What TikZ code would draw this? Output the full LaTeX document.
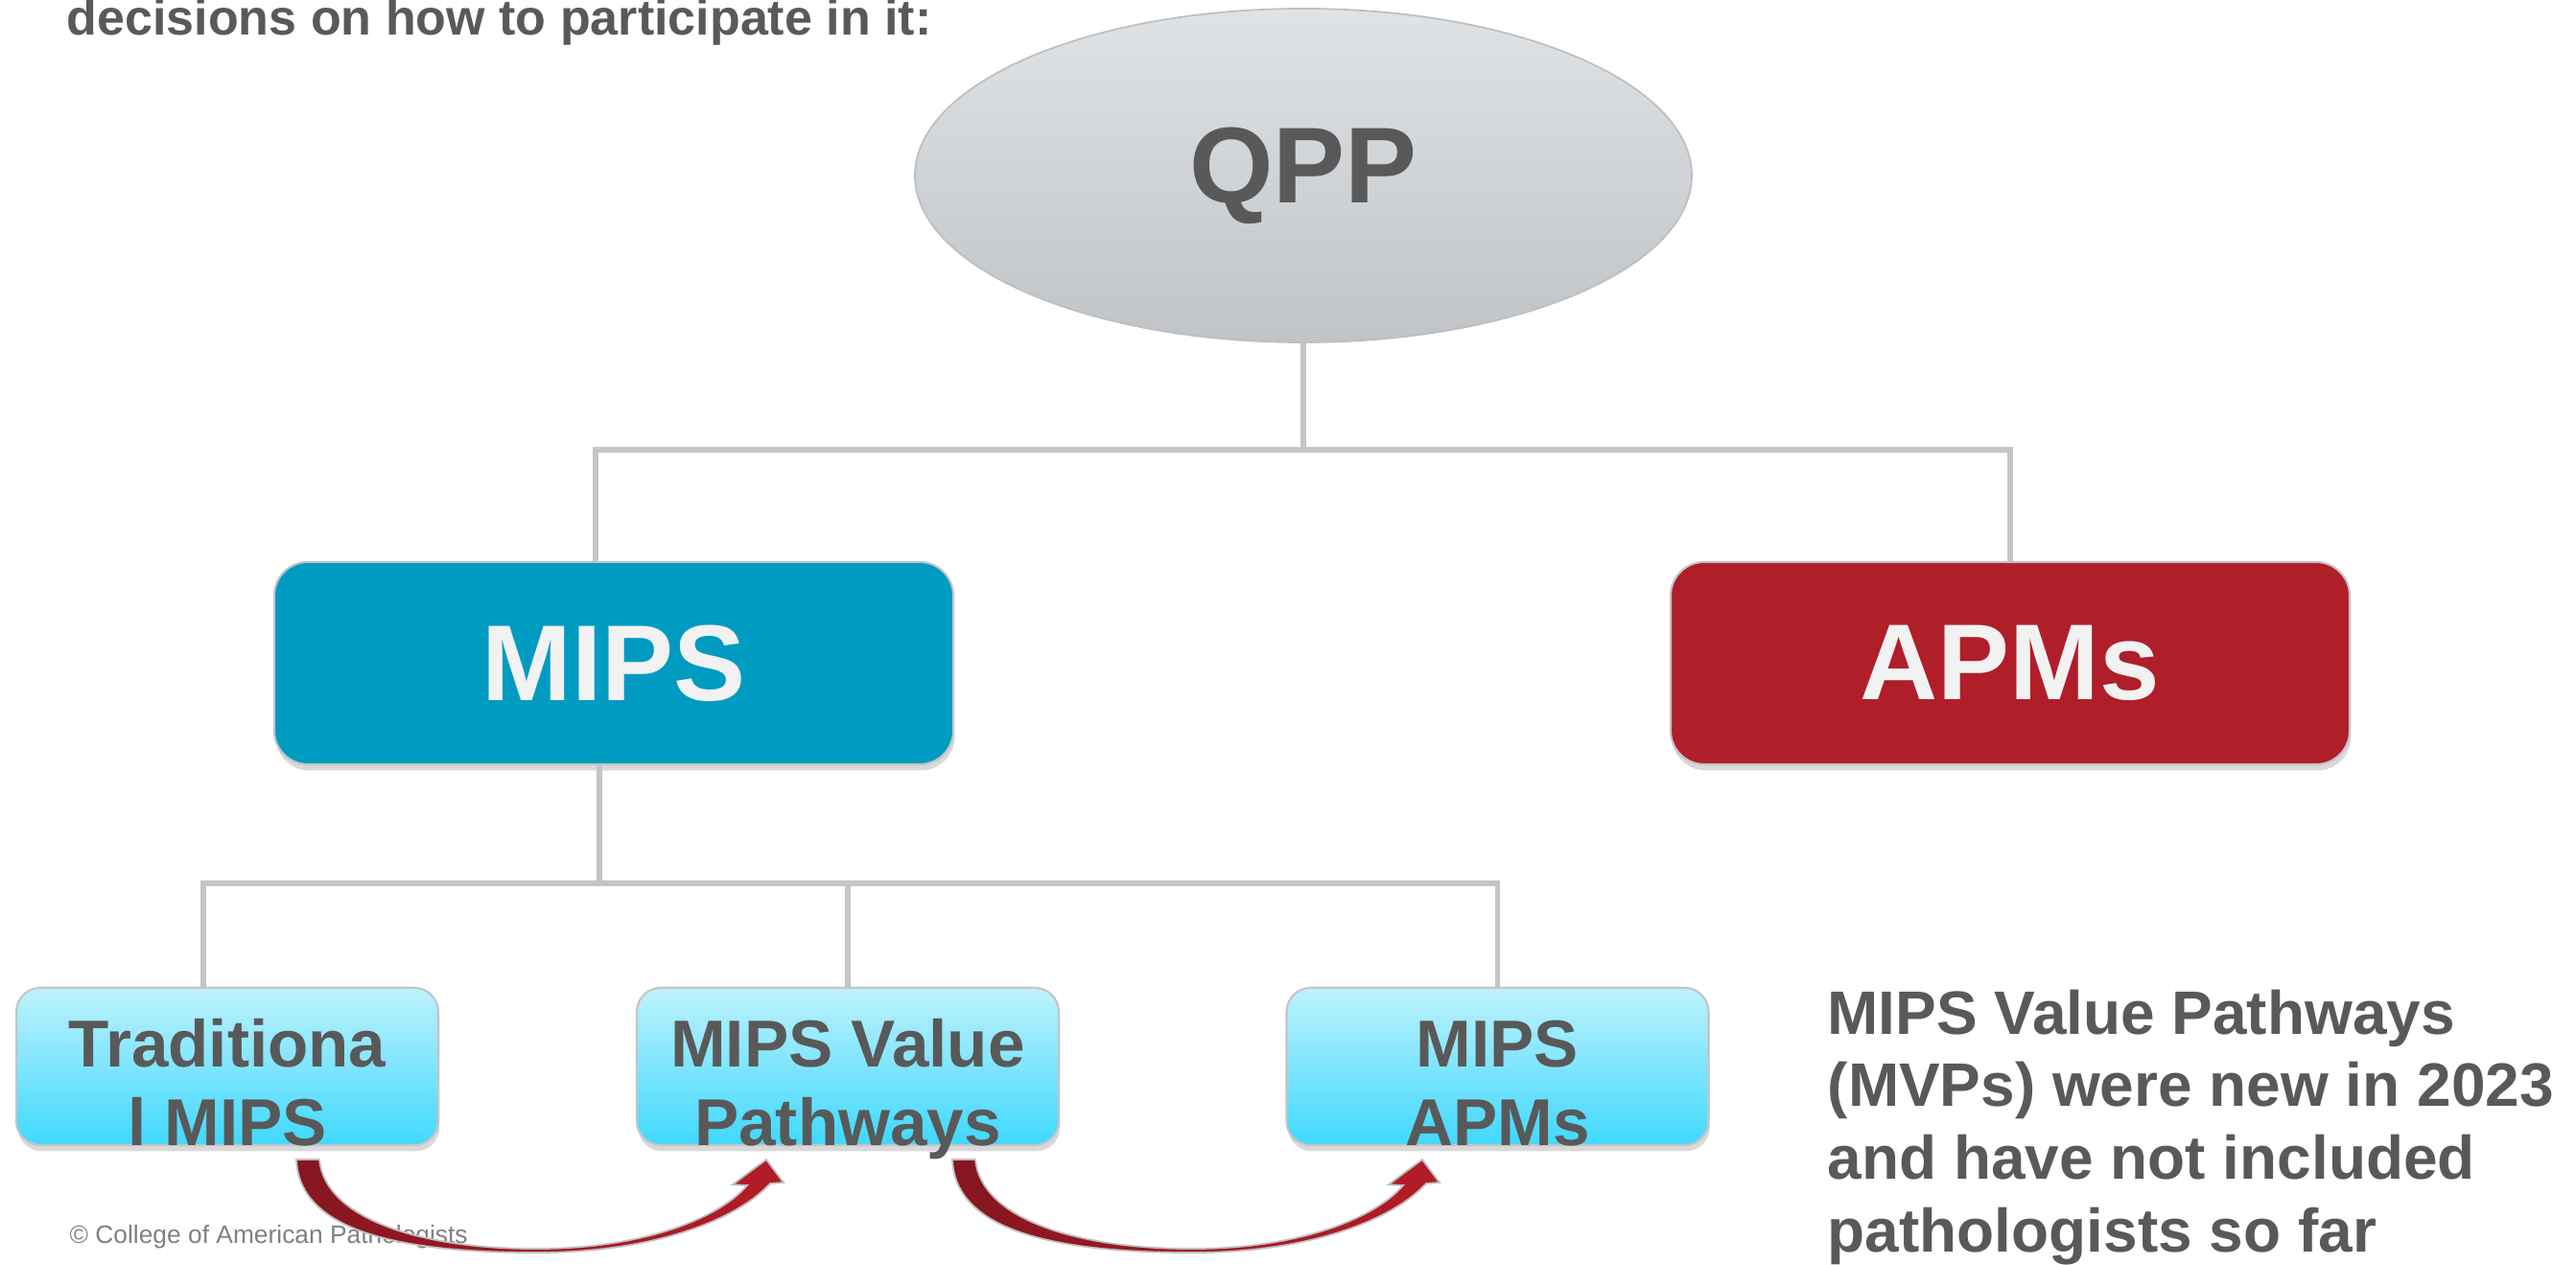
\documentclass[tikz,border=0pt]{standalone}
\usepackage{fontspec}
\setmainfont{Liberation Sans}
\usepackage{tikz}
\usetikzlibrary{shapes.geometric,shadows}
\definecolor{txtgray}{RGB}{89,89,89}
\definecolor{mipsblue}{RGB}{0,155,192}
\definecolor{apmred}{RGB}{176,30,41}
\definecolor{linegray}{RGB}{195,197,200}
\definecolor{cyantop}{RGB}{190,242,253}
\definecolor{cyanbot}{RGB}{64,216,253}
\definecolor{elltop}{RGB}{224,227,230}
\definecolor{ellbot}{RGB}{192,195,199}
\definecolor{arrowdark}{RGB}{135,22,32}
\definecolor{arrowred}{RGB}{180,28,38}

\tikzset{
link/.style={linegray, line width=1.6pt},
topbox/.style={rounded corners=0.35cm, minimum width=7.08cm, minimum height=2.11cm, inner sep=0pt,
  draw=linegray, line width=0.6pt, text=white!95!black, font=\bfseries\fontsize{32}{38}\selectfont,
  drop shadow={shadow xshift=0.4pt, shadow yshift=-1.8pt, opacity=0.3}},
subbox/.style={rounded corners=0.25cm, minimum width=4.40cm, minimum height=1.64cm, inner sep=0pt,
  top color=cyantop, bottom color=cyanbot, draw=linegray, line width=0.6pt,
  drop shadow={shadow xshift=0.4pt, shadow yshift=-1.8pt, opacity=0.3}},
subtext/.style={anchor=base, inner sep=0pt, text=txtgray, align=center, font=\bfseries\fontsize{19.7}{23.3}\selectfont}
}

\newcommand{\bentarrow}[1]{%
\shadedraw[left color=arrowdark, right color=arrowred, draw=black!25, line width=0.5pt, shift={(#1)}]
(0,0) .. controls (0.03,-0.72) and (1.0,-0.97) .. (2.5,-0.97) .. controls (3.75,-0.97) and (4.6,-0.62) .. (4.94,-0.25)
-- (5.08,-0.24) -- (4.90,0) -- (4.55,-0.26) -- (4.70,-0.27)
.. controls (4.4,-0.62) and (3.6,-0.93) .. (2.5,-0.93) .. controls (1.3,-0.93) and (0.3,-0.62) .. (0.24,0) -- cycle;}

\begin{document}
\begin{tikzpicture}
\useasboundingbox (0,0) rectangle (26.86,13.18);
\clip (0,0) rectangle (26.86,13.18);

\node[anchor=base west, inner sep=0pt, text=txtgray, font=\bfseries\fontsize{14.8}{18}\selectfont] (intro) at (0.69,12.81) {decisions on how to participate in it:};

\node[ellipse, minimum width=8.1cm, minimum height=3.48cm, inner sep=0pt, top color=elltop, bottom color=ellbot,
  draw=black!25, line width=0.5pt, text=txtgray, font=\bfseries\fontsize{32}{38}\selectfont] (qpp) at (13.59,11.35) {QPP};
\node[topbox, fill=mipsblue] (mips) at (6.40,6.265) {MIPS};
\node[topbox, fill=apmred] (apms) at (20.96,6.265) {APMs};
\node[subbox] (trad) at (2.37,2.06) {};
\node[subbox] (mvp) at (8.84,2.06) {};
\node[subbox] (mapm) at (15.615,2.06) {};
\node[subtext] (tradtxt) at ([yshift=0.01cm]trad.south) {Traditiona\\l MIPS};
\node[subtext] (mvptxt) at ([yshift=0.01cm]mvp.south) {MIPS Value\\Pathways};
\node[subtext] (mapmtxt) at ([yshift=0.01cm]mapm.south) {MIPS\\APMs};

\draw[link] (qpp.south) -- ++(0,-1.11) coordinate (bus1);
\draw[link] ([xshift=-0.19cm]mips.north) |- (bus1) -| (apms.north);
\draw[link] ([xshift=-0.15cm]mips.south) -- ++(0,-1.23) coordinate (bus2);
\draw[link] ([xshift=-0.25cm]trad.north) |- (bus2) -| (mapm.north);
\draw[link] (mvp.north) -- (mvp.north |- bus2);

\node[anchor=north west, align=left, inner sep=0pt, text=txtgray, font=\bfseries\fontsize{18.2}{21.6}\selectfont] (note) at (19.05,2.87)
{MIPS Value Pathways\\(MVPs) were new in 2023\\and have not included\\pathologists so far};

\node[anchor=west, inner sep=0pt, text=black!50, font=\fontsize{7.5}{9}\selectfont] (copy) at (0.72,0.28) {© College of American Pathologists};

\bentarrow{[xshift=0.72cm,yshift=-0.14cm]trad.south}
\bentarrow{[xshift=1.09cm,yshift=-0.14cm]mvp.south}

\end{tikzpicture}
\end{document}
